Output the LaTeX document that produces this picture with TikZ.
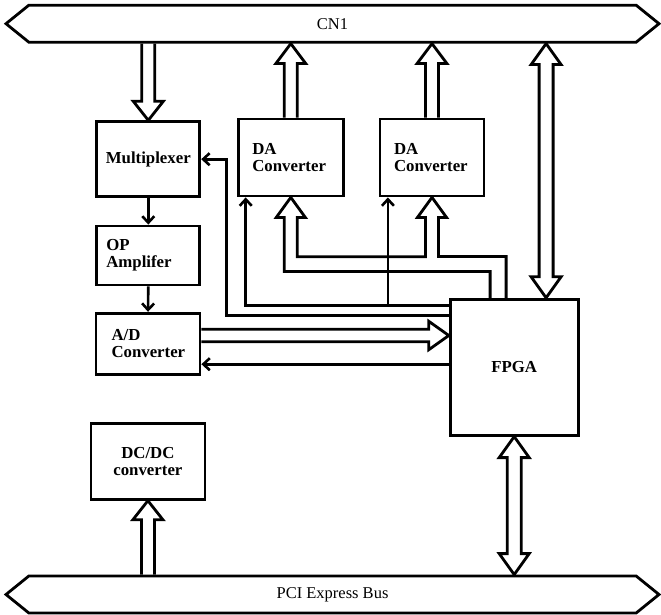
\documentclass[tikz,border=0pt]{standalone}
\usepackage{fontspec}
\setmainfont{Liberation Serif}
\usetikzlibrary{arrows.meta,calc,shapes.symbols}

\tikzset{
  sig/.style={draw,line width=2.6pt,-{Straight Barb[length=6.5pt,width=12pt]}},
  bus/.style={draw,line width=2.8pt,line join=miter},
  blk/.style={rectangle,draw,line width=2.8pt,inner sep=0pt,font=\fontsize{16.8}{17}\selectfont\bfseries},
  lblk/.style={blk,align=left},
  rail/.style={signal,signal to=west and east,signal pointer angle=78,draw,line width=2.8pt,
    minimum width=653pt,minimum height=37pt,inner sep=0pt,font=\fontsize{16.5}{17}\selectfont}
}
% hollow bus arrow: base, tip, head length (positive points up)
\newcommand{\busarrow}[3]{%
  \draw[bus] ($#1+(-6.5,0)$) -- ($#2+(-6.5,#3)$) -- ($#2+(-15,#3)$) -- #2
    -- ($#2+(15,#3)$) -- ($#2+(6.5,#3)$) -- ($#1+(6.5,0)$);}
% hollow bus arrow with two heads: upper tip, lower tip
\newcommand{\busarrows}[2]{%
  \draw[bus] #1 -- ($#1+(15,21)$) -- ($#1+(7,21)$) -- ($#2+(7,-21)$) -- ($#2+(15,-21)$) -- #2
    -- ($#2+(-15,-21)$) -- ($#2+(-7,-21)$) -- ($#1+(-7,21)$) -- ($#1+(-15,21)$) -- cycle;}

\begin{document}
\begin{tikzpicture}[x=1pt,y=-1pt]
\useasboundingbox (0,0) rectangle (661,615);

\node[rail] (cn1) at (332.5,23.7) {CN1};
\node[rail] (pcie) at (332.5,594.5) {PCI Express Bus};

\node[blk,minimum width=103pt,minimum height=75pt] (mux) at (148.3,159.2) {Multiplexer};
\node[lblk,inner xsep=9.5pt,text width=84pt,minimum height=59pt] (opamp) at (148.3,255.5) {OP\\Amplifer};
\node[lblk,inner xsep=15.5pt,text width=73pt,minimum height=61pt] (adc) at (148,343.7) {A/D\\Converter};
\node[lblk,inner xsep=14pt,text width=77pt,minimum height=77pt] (dacA) at (290.8,157.5) {DA\\Converter};
\node[lblk,inner xsep=14pt,text width=76pt,minimum height=77pt] (dacB) at (432,157.5) {DA\\Converter};
\node[blk,minimum width=128pt,minimum height=136pt] (fpga) at (514.2,367.2) {FPGA};
\node[blk,align=center,minimum width=114pt,minimum height=76pt] (dcdc) at (147.9,461.3) {DC/DC\\converter};

% connector buses
\busarrow{(mux.north |- cn1.south)}{(mux.north)}{-19}
\busarrow{(dacA.north)}{(dacA.north |- cn1.south)}{20}
\busarrow{(dacB.north)}{(dacB.north |- cn1.south)}{20}
\busarrow{(dcdc.south |- pcie.north)}{(dcdc.south)}{19}
\coordinate (cnlink) at ($(fpga.north west)+(97.3,0)$);
\busarrows{(cnlink |- cn1.south)}{(cnlink)}
\busarrows{(fpga.south)}{(fpga.south |- pcie.north)}

% FPGA to both DA converters
\coordinate (busL) at ($(fpga.north west)+(41.3,-26.3)$);
\coordinate (busR) at ($(fpga.north west)+(57.3,-41.3)$);
\draw[bus] (busL |- fpga.north) -- (busL) -| ($(dacA.south)+(-6.5,20)$) -- ++(-8,0) -- (dacA.south)
  -- ++(14.5,20) -- ++(-8,0) |- ($(dacB.south)+(-6.5,59.4)$) -- ($(dacB.south)+(-6.5,20)$)
  -- ++(-8,0) -- (dacB.south) -- ++(14.5,20) -- ++(-8,0) |- (busR) -- (busR |- fpga.north);

% A/D data into FPGA
\coordinate (adcout) at ($(adc.east)+(0,-8.2)$);
\coordinate (adctip) at (adcout -| fpga.west);
\draw[bus] ($(adcout)+(0,-6.2)$) -- ($(adctip)+(-20,-6.2)$) -- ++(0,-8) -- (adctip)
  -- ($(adctip)+(-20,14.2)$) -- ++(0,-8) -- ($(adcout)+(0,6.2)$);

% control lines
\coordinate (muxfeed) at ($(fpga.north west)+(0,17.7)$);
\coordinate (dacfeed) at ($(fpga.north west)+(0,7.7)$);
\coordinate (dacBin) at ($(dacB.south west)+(9.3,0)$);
\coordinate (adcret) at ($(fpga.west)+(0,-3)$);
\draw[sig] (muxfeed) -| ($(mux.east)+(25.4,0)$) -- (mux.east);
\draw[sig] (dacfeed) -| ($(dacA.south west)+(8.8,0)$);
\draw[sig] (dacBin |- dacfeed) -- (dacBin);
\draw[sig] (adcret) -- (adcret -| adc.east);
\draw[sig] (mux.south) -- (opamp.north);
\draw[sig] (opamp.south) -- (adc.north);
\end{tikzpicture}
\end{document}
